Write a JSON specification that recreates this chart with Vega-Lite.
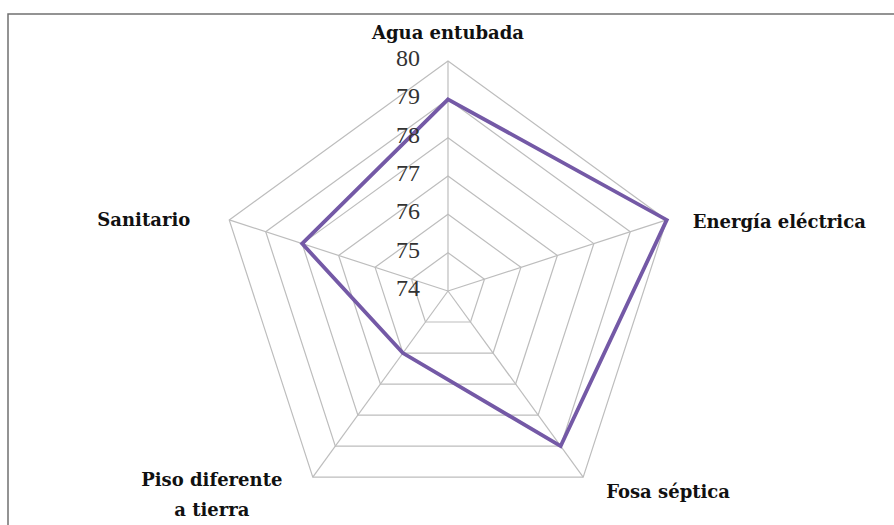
{
  "$schema": "https://vega.github.io/schema/vega-lite/v6.json",
  "width": 887,
  "height": 512,
  "autosize": "none",
  "padding": {"left": 8, "top": 14, "right": 0, "bottom": 0},
  "background": "white",
  "config": {"view": {"stroke": "#707070", "strokeWidth": 1.5}},
  "datasets": {
    "series": [
      {"axis": "Agua entubada", "idx": 0, "value": 79},
      {"axis": "Energía eléctrica", "idx": 1, "value": 80},
      {"axis": "Fosa séptica", "idx": 2, "value": 79},
      {"axis": "Piso diferente\na tierra", "idx": 3, "value": 76},
      {"axis": "Sanitario", "idx": 4, "value": 78}
    ],
    "levels": [
      {"level": 75, "idx": [0, 1, 2, 3, 4]},
      {"level": 76, "idx": [0, 1, 2, 3, 4]},
      {"level": 77, "idx": [0, 1, 2, 3, 4]},
      {"level": 78, "idx": [0, 1, 2, 3, 4]},
      {"level": 79, "idx": [0, 1, 2, 3, 4]},
      {"level": 80, "idx": [0, 1, 2, 3, 4]}
    ],
    "ticks": [
      {"tick": 74}, {"tick": 75}, {"tick": 76}, {"tick": 77},
      {"tick": 78}, {"tick": 79}, {"tick": 80}
    ]
  },
  "layer": [
    {
      "data": {"name": "levels"},
      "transform": [
        {"flatten": ["idx"]},
        {"calculate": "datum.idx * 2 * PI / 5", "as": "a"},
        {"calculate": "(datum.level - 74) * sin(datum.a)", "as": "x"},
        {"calculate": "(datum.level - 74) * cos(datum.a)", "as": "y"}
      ],
      "mark": {"type": "line", "interpolate": "linear-closed", "stroke": "#BDBDBD", "strokeWidth": 1.2},
      "encoding": {
        "x": {"field": "x", "type": "quantitative", "scale": {"domain": [-11.478, 11.661], "nice": false, "zero": false}, "axis": null},
        "y": {"field": "y", "type": "quantitative", "scale": {"domain": [-6.13, 7.226], "nice": false, "zero": false}, "axis": null},
        "detail": {"field": "level"},
        "order": {"field": "idx"}
      }
    },
    {
      "data": {"name": "series"},
      "transform": [
        {"calculate": "datum.idx * 2 * PI / 5", "as": "a"},
        {"calculate": "6 * sin(datum.a)", "as": "x"},
        {"calculate": "6 * cos(datum.a)", "as": "y"}
      ],
      "mark": {"type": "rule", "stroke": "#BDBDBD", "strokeWidth": 1.2},
      "encoding": {
        "x": {"field": "x", "type": "quantitative"},
        "y": {"field": "y", "type": "quantitative"},
        "x2": {"datum": 0},
        "y2": {"datum": 0}
      }
    },
    {
      "data": {"name": "series"},
      "transform": [
        {"calculate": "datum.idx * 2 * PI / 5", "as": "a"},
        {"calculate": "(datum.value - 74) * sin(datum.a)", "as": "x"},
        {"calculate": "(datum.value - 74) * cos(datum.a)", "as": "y"}
      ],
      "mark": {"type": "line", "interpolate": "linear-closed", "stroke": "#7459A6", "strokeWidth": 3.8},
      "encoding": {
        "x": {"field": "x", "type": "quantitative"},
        "y": {"field": "y", "type": "quantitative"},
        "order": {"field": "idx"}
      }
    },
    {
      "data": {"name": "ticks"},
      "transform": [{"calculate": "datum.tick - 74", "as": "y"}],
      "mark": {"type": "text", "align": "right", "baseline": "middle", "dx": -28, "dy": -2, "font": "Liberation Serif", "fontSize": 24, "fill": "#333333"},
      "encoding": {
        "x": {"datum": 0, "type": "quantitative"},
        "y": {"field": "y", "type": "quantitative"},
        "text": {"field": "tick"}
      }
    },
    {
      "data": {"name": "series"},
      "transform": [
        {"filter": "datum.idx == 0"},
        {"calculate": "6 * sin(datum.idx * 2 * PI / 5)", "as": "x"},
        {"calculate": "6 * cos(datum.idx * 2 * PI / 5)", "as": "y"}
      ],
      "mark": {"type": "text", "align": "center", "baseline": "middle", "dy": -27, "font": "DejaVu Serif", "fontWeight": "bold", "fontSize": 18, "fill": "#111111"},
      "encoding": {
        "x": {"field": "x", "type": "quantitative"},
        "y": {"field": "y", "type": "quantitative"},
        "text": {"field": "axis"}
      }
    },
    {
      "data": {"name": "series"},
      "transform": [
        {"filter": "datum.idx == 1"},
        {"calculate": "6 * sin(datum.idx * 2 * PI / 5)", "as": "x"},
        {"calculate": "6 * cos(datum.idx * 2 * PI / 5)", "as": "y"}
      ],
      "mark": {"type": "text", "align": "left", "baseline": "middle", "dx": 26, "dy": 3, "font": "DejaVu Serif", "fontWeight": "bold", "fontSize": 18, "fill": "#111111"},
      "encoding": {
        "x": {"field": "x", "type": "quantitative"},
        "y": {"field": "y", "type": "quantitative"},
        "text": {"field": "axis"}
      }
    },
    {
      "data": {"name": "series"},
      "transform": [
        {"filter": "datum.idx == 2"},
        {"calculate": "6 * sin(datum.idx * 2 * PI / 5)", "as": "x"},
        {"calculate": "6 * cos(datum.idx * 2 * PI / 5)", "as": "y"}
      ],
      "mark": {"type": "text", "align": "left", "baseline": "middle", "dx": 23, "dy": 16, "font": "DejaVu Serif", "fontWeight": "bold", "fontSize": 18, "fill": "#111111"},
      "encoding": {
        "x": {"field": "x", "type": "quantitative"},
        "y": {"field": "y", "type": "quantitative"},
        "text": {"field": "axis"}
      }
    },
    {
      "data": {"name": "series"},
      "transform": [
        {"filter": "datum.idx == 3"},
        {"calculate": "6 * sin(datum.idx * 2 * PI / 5)", "as": "x"},
        {"calculate": "6 * cos(datum.idx * 2 * PI / 5)", "as": "y"}
      ],
      "mark": {"type": "text", "align": "center", "baseline": "middle", "dx": -101, "dy": 4, "lineBreak": "\n", "lineHeight": 30, "font": "DejaVu Serif", "fontWeight": "bold", "fontSize": 18, "fill": "#111111"},
      "encoding": {
        "x": {"field": "x", "type": "quantitative"},
        "y": {"field": "y", "type": "quantitative"},
        "text": {"field": "axis"}
      }
    },
    {
      "data": {"name": "series"},
      "transform": [
        {"filter": "datum.idx == 4"},
        {"calculate": "6 * sin(datum.idx * 2 * PI / 5)", "as": "x"},
        {"calculate": "6 * cos(datum.idx * 2 * PI / 5)", "as": "y"}
      ],
      "mark": {"type": "text", "align": "right", "baseline": "middle", "dx": -39, "dy": 1, "font": "DejaVu Serif", "fontWeight": "bold", "fontSize": 18, "fill": "#111111"},
      "encoding": {
        "x": {"field": "x", "type": "quantitative"},
        "y": {"field": "y", "type": "quantitative"},
        "text": {"field": "axis"}
      }
    }
  ]
}
